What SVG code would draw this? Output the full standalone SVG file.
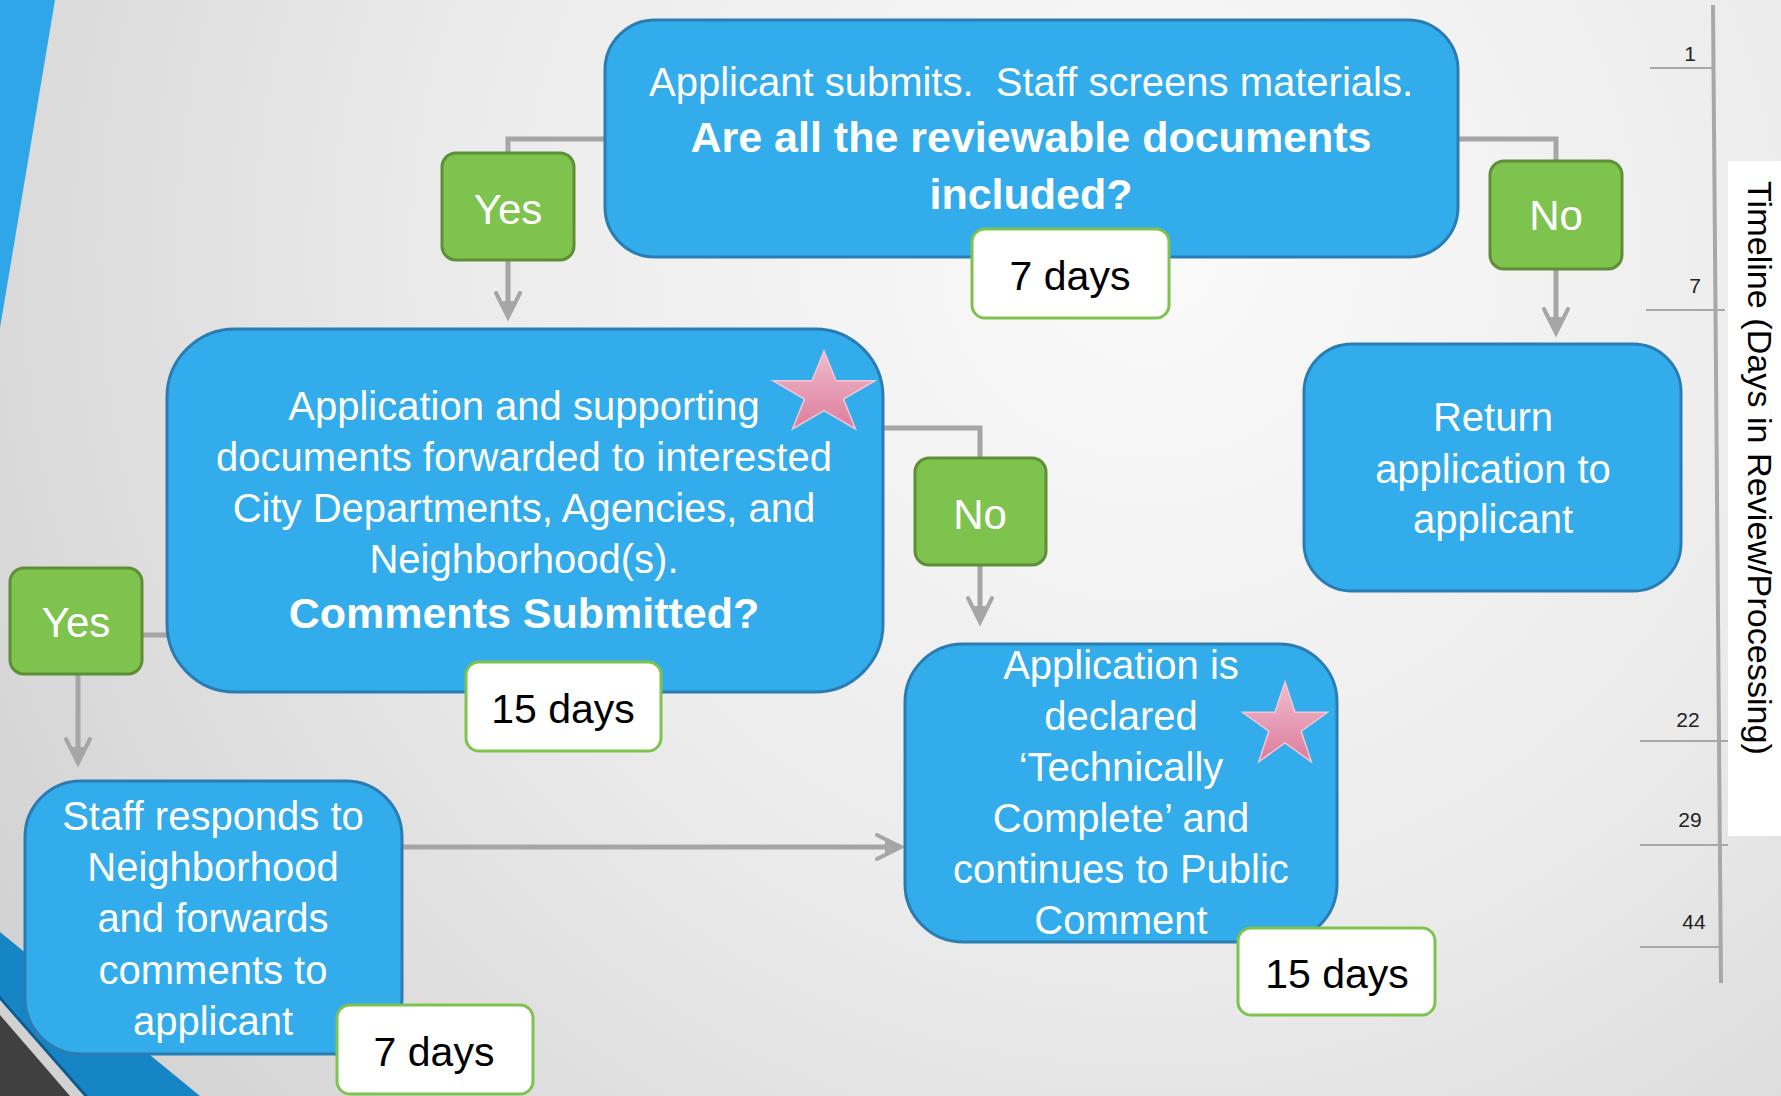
<svg xmlns="http://www.w3.org/2000/svg" width="1781" height="1096" viewBox="0 0 1781 1096">
<defs>
<radialGradient id="bg" gradientUnits="userSpaceOnUse" cx="1150" cy="250" r="1400">
<stop offset="0" stop-color="#fafafa"/>
<stop offset="0.5" stop-color="#ebebeb"/>
<stop offset="1" stop-color="#d0d0d0"/>
</radialGradient>
<linearGradient id="starg" x1="0" y1="0" x2="0" y2="1">
<stop offset="0" stop-color="#efbccd"/>
<stop offset="1" stop-color="#dd7c9d"/>
</linearGradient>
<marker id="arr" markerUnits="userSpaceOnUse" markerWidth="40" markerHeight="40" refX="0" refY="0" orient="auto" overflow="visible">
<path d="M-16,-12 L8,0 L-16,12" fill="none" stroke="#a6a6a6" stroke-width="4" stroke-linejoin="miter" stroke-linecap="round"/>
<path d="M8,0 L-8,-6 L-8,6 Z" fill="#a6a6a6"/>
</marker>
<style>
.box{fill:#32acea;stroke:#2a7db3;stroke-width:3}
.dec{fill:#7fc34f;stroke:#5e8f36;stroke-width:3}
.day{fill:#ffffff;stroke:#7fc34f;stroke-width:3}
.wt{fill:#ffffff;font-family:"Liberation Sans",Arial,sans-serif;font-size:40px;text-anchor:middle}
.bt{font-weight:bold;font-size:43px}
.dt{fill:#000000;font-family:"Liberation Sans",Arial,sans-serif;font-size:41px;text-anchor:middle}
.yn{fill:#ffffff;font-family:"Liberation Sans",Arial,sans-serif;font-size:42px;text-anchor:middle}
.con{fill:none;stroke:#a6a6a6;stroke-width:5}
.tick{stroke:#a8a8a8;stroke-width:2}
.num{fill:#222222;font-family:"Liberation Sans",Arial,sans-serif;font-size:21px;text-anchor:middle}
.star{fill:url(#starg);stroke:#f3c6d5;stroke-width:1.5}
</style>
</defs>

<g id="background">
<rect x="0" y="0" width="1781" height="1096" fill="url(#bg)"/>
<polygon points="0,0 55,0 0,328" fill="#2fa6e8"/>
<polygon points="0,932 200,1096 0,1096" fill="#1585c5"/>
<polygon points="0,996 88,1096 0,1096" fill="#0e5a8a"/>
<polygon points="0,1000 84,1096 0,1096" fill="#d2d2d2"/>
<polygon points="0,1015 70,1096 0,1096" fill="#404040"/>
</g>

<g id="timeline">
<rect x="1728" y="161" width="53" height="675" fill="#ffffff"/>
<line x1="1713" y1="5" x2="1721" y2="983" stroke="#a8a8a8" stroke-width="4"/>
<line class="tick" x1="1650" y1="68" x2="1714" y2="68"/>
<line class="tick" x1="1646" y1="310" x2="1725" y2="310"/>
<line class="tick" x1="1640" y1="741" x2="1728" y2="741"/>
<line class="tick" x1="1640" y1="845" x2="1728" y2="845"/>
<line class="tick" x1="1640" y1="947" x2="1722" y2="947"/>
<text class="num" x="1690" y="61">1</text>
<text class="num" x="1695" y="293">7</text>
<text class="num" x="1688" y="727">22</text>
<text class="num" x="1690" y="827">29</text>
<text class="num" x="1694" y="929">44</text>
<text transform="translate(1748,181) rotate(90)" font-family="Liberation Sans, Arial, sans-serif" font-size="34" fill="#000000" textLength="574" lengthAdjust="spacingAndGlyphs">Timeline (Days in Review/Processing)</text>
</g>

<g id="connectors">
<path class="con" d="M605,139 H508 V309" marker-end="url(#arr)"/>
<path class="con" d="M1458,139 H1556 V325" marker-end="url(#arr)"/>
<path class="con" d="M883,428 H980 V614" marker-end="url(#arr)"/>
<path class="con" d="M167,635 H78 V755" marker-end="url(#arr)"/>
<path class="con" d="M402,847 H893" marker-end="url(#arr)"/>
</g>

<g id="screen">
<rect class="box" x="605" y="20" width="853" height="237" rx="50" ry="50"/>
<text class="wt" x="1031" y="96">Applicant submits.&#160; Staff screens materials.</text>
<text class="wt bt" x="1031" y="152">Are all the reviewable documents</text>
<text class="wt bt" x="1031" y="209">included?</text>
</g>
<g id="days7-screen">
<rect class="day" x="972" y="229" width="197" height="89" rx="13" ry="13"/>
<text class="dt" x="1070" y="290">7 days</text>
</g>

<g id="yes-top">
<rect class="dec" x="442" y="153" width="132" height="107" rx="14" ry="14"/>
<text class="yn" x="508" y="224">Yes</text>
</g>

<g id="no-top">
<rect class="dec" x="1490" y="161" width="132" height="108" rx="14" ry="14"/>
<text class="yn" x="1556" y="230">No</text>
</g>

<g id="return">
<rect class="box" x="1304" y="344" width="377" height="247" rx="48" ry="48"/>
<text class="wt" x="1493" y="431">Return</text>
<text class="wt" x="1493" y="483">application to</text>
<text class="wt" x="1493" y="533">applicant</text>
</g>

<g id="forward">
<rect class="box" x="167" y="329" width="716" height="363" rx="68" ry="68"/>
<text class="wt" x="524" y="420">Application and supporting</text>
<text class="wt" x="524" y="471">documents forwarded to interested</text>
<text class="wt" x="524" y="522">City Departments, Agencies, and</text>
<text class="wt" x="524" y="573">Neighborhood(s).</text>
<text class="wt bt" x="524" y="628">Comments Submitted?</text>
<polygon class="star" points="824,350.9 836,380.7 875,380.7 843.5,399.1 855.5,428.9 824,410.5 792.5,428.9 804.5,399.1 773,380.7 812,380.7"/>
</g>
<g id="days15-forward">
<rect class="day" x="466" y="662" width="195" height="89" rx="13" ry="13"/>
<text class="dt" x="563" y="723">15 days</text>
</g>

<g id="no-mid">
<rect class="dec" x="915" y="458" width="131" height="107" rx="14" ry="14"/>
<text class="yn" x="980" y="529">No</text>
</g>

<g id="yes-left">
<rect class="dec" x="10" y="568" width="132" height="106" rx="14" ry="14"/>
<text class="yn" x="76" y="637">Yes</text>
</g>

<g id="staff-responds">
<rect class="box" x="25" y="781" width="377" height="273" rx="56" ry="56"/>
<text class="wt" x="213" y="830">Staff responds to</text>
<text class="wt" x="213" y="881">Neighborhood</text>
<text class="wt" x="213" y="932">and forwards</text>
<text class="wt" x="213" y="984">comments to</text>
<text class="wt" x="213" y="1035">applicant</text>
</g>
<g id="days7-staff">
<rect class="day" x="337" y="1005" width="196" height="89" rx="13" ry="13"/>
<text class="dt" x="434" y="1066">7 days</text>
</g>

<g id="technically-complete">
<rect class="box" x="905" y="644" width="432" height="298" rx="58" ry="58"/>
<text class="wt" x="1121" y="679">Application is</text>
<text class="wt" x="1121" y="730">declared</text>
<text class="wt" x="1121" y="781">‘Technically</text>
<text class="wt" x="1121" y="832">Complete’ and</text>
<text class="wt" x="1121" y="883">continues to Public</text>
<text class="wt" x="1121" y="934">Comment</text>
<polygon class="star" points="1285,681.8 1295,712.3 1327.5,712.3 1301.2,731.2 1311.3,761.8 1285,742.9 1258.7,761.8 1268.8,731.2 1242.5,712.3 1275,712.3"/>
</g>
<g id="days15-complete">
<rect class="day" x="1238" y="928" width="197" height="87" rx="13" ry="13"/>
<text class="dt" x="1337" y="988">15 days</text>
</g>
</svg>
